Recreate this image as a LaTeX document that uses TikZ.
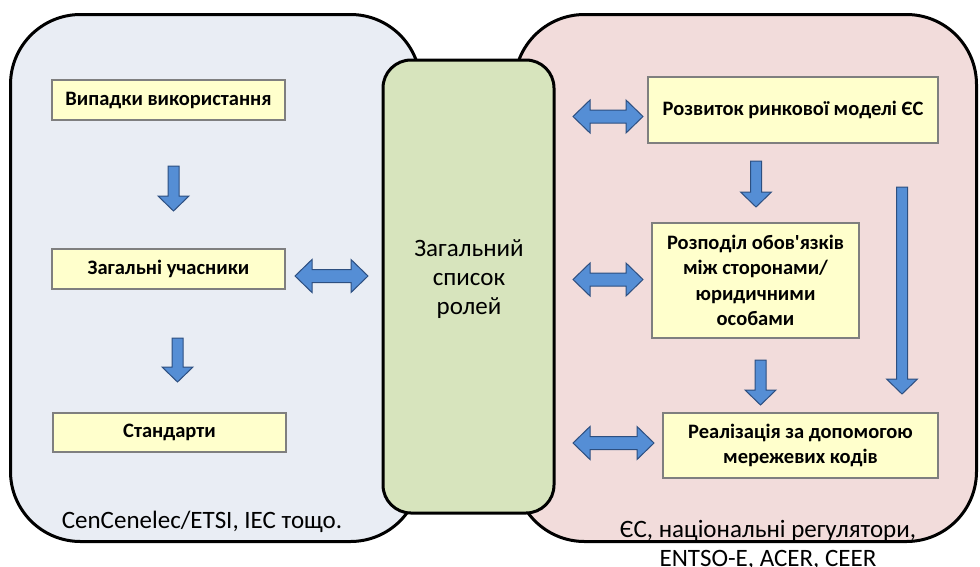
\documentclass[tikz,border=0pt]{standalone}
\usepackage{fontspec}
\setmainfont{Carlito}[Ligatures=TeXOff]
\usetikzlibrary{calc}

\definecolor{leftbg}{HTML}{E9EDF4}
\definecolor{rightbg}{HTML}{F2DCDB}
\definecolor{rolesbg}{HTML}{D7E4BD}
\definecolor{stepbg}{HTML}{FFFFCC}
\definecolor{stepline}{HTML}{7F7F7F}
\definecolor{arrowfill}{HTML}{558ED5}
\definecolor{arrowline}{HTML}{2D4F80}

\tikzset{
  group/.style={draw=black, line width=3pt, rounded corners=70pt},
  stepbox/.style={rectangle, draw=stepline, fill=stepbg, line width=2.5pt,
    inner sep=0pt, align=center, font=\bfseries\fontsize{20.5}{25.5}\selectfont},
  plainlbl/.style={inner sep=0pt, font=\fontsize{25}{29}\selectfont},
  blockarrow/.style={draw=arrowline, fill=arrowfill, line width=1pt, line join=miter},
  % downward block arrow: origin at the middle of the tail, #1 = length
  pics/downblk/.style={code={
    \draw[blockarrow] (-5.5,0) -- (5.5,0) -- (5.5,#1-15) -- (15.5,#1-15)
      -- (0,#1) -- (-15.5,#1-15) -- (-5.5,#1-15) -- cycle;
  }},
  % two-headed block arrow: origin at its centre, #1 = half length
  pics/dblblk/.style={code={
    \draw[blockarrow] (-#1,0) -- (-#1+17,-16.5) -- (-#1+17,-6.5) -- (#1-17,-6.5)
      -- (#1-17,-16.5) -- (#1,0) -- (#1-17,16.5) -- (#1-17,6.5) -- (-#1+17,6.5)
      -- (-#1+17,16.5) -- cycle;
  }},
}

\begin{document}
\begin{tikzpicture}[x=1pt, y=-1pt]
  \useasboundingbox (0,0) rectangle (980,566);
  \clip (0,0) rectangle (980,566);

  % the two organisation groups
  \draw[group, fill=leftbg] (10.5,14.5) rectangle (420.5,541.5);
  \draw[group, fill=rightbg] (514.5,14.5) rectangle (976.5,541.5);

  % shared list of roles in the middle
  \node (roles) [rectangle, draw=black, fill=rolesbg, line width=3pt,
    rounded corners=28pt, minimum width=171pt, minimum height=453pt]
    at (468.5,286.5) {};
  \node (roleslbl) [plainlbl, align=center] at (469,279) {Загальний\\список\\ролей};

  % left column
  \node (usecases) [stepbox, minimum width=233pt, minimum height=40pt]
    at (168.5,100) {Випадки використання};
  \node (actors) [stepbox, minimum width=233pt, minimum height=40pt]
    at (168.5,269) {Загальні учасники};
  \node (standards) [stepbox, minimum width=233pt, minimum height=39pt]
    at (169.5,432.5) {Стандарти};

  \pic at (173.5,166) {downblk=45};
  \pic at (177.5,338) {downblk=44};
  \pic at (331.5,276) {dblblk=36.5};

  % right column
  \node (market) [stepbox, minimum width=290pt, minimum height=66pt]
    at (793,110) {Розвиток ринкової моделі ЄС};
  \node (duties) [stepbox, minimum width=207pt, minimum height=115pt]
    at (755.5,280.5) {Розподіл обов'язків\\між сторонами/\\юридичними\\особами};
  \node (codes) [stepbox, minimum width=275pt, minimum height=65pt]
    at (800.5,445.5) {Реалізація за допомогою\\мережевих кодів};

  \pic at (756,161) {downblk=46};
  \pic at (760.5,360) {downblk=45};
  \pic at (902,187) {downblk=207};

  \pic at (608,116.5) {dblblk=35};
  \pic at (608,279.5) {dblblk=35};
  \pic at (613.5,443) {dblblk=40.5};

  % group captions
  \node (leftcap) [plainlbl, anchor=base] at (202,528) {CenCenelec/ETSI, IEC тощо.};
  \node (rightcap1) [plainlbl, anchor=base] at (768,537) {ЄС, національні регулятори,};
  \node (rightcap2) [plainlbl, anchor=base] at (768,566) {ENTSO-E, ACER, CEER};
\end{tikzpicture}
\end{document}
